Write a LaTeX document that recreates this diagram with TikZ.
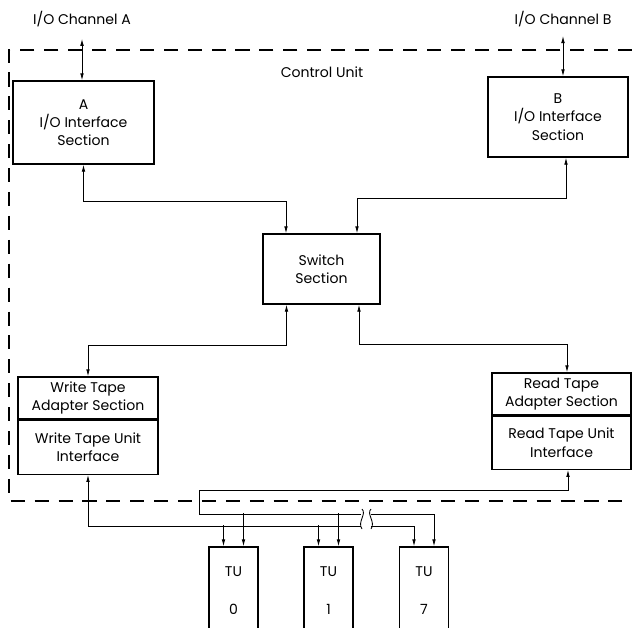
\documentclass[tikz,border=0pt]{standalone}
\usepackage{fontspec}
\setmainfont{Poppins}
\usetikzlibrary{arrows.meta,calc,positioning}

\begin{document}
\begin{tikzpicture}[x=0.025cm,y=-0.025cm,
  every node/.style={font=\fontsize{10}{13}\selectfont},
  unitbox/.style={draw,line width=0.9pt,align=center,inner sep=0pt},
  tubox/.style={draw,line width=0.9pt,align=center,inner sep=0pt,minimum width=1.225cm,minimum height=2.2cm},
  link/.style={line width=0.6pt},
  twoway/.style={link,{Latex[length=5pt,width=2.6pt]}-{Latex[length=5pt,width=2.6pt]}},
  oneway/.style={link,-{Latex[length=5pt,width=2.6pt]}},
  backway/.style={link,{Latex[length=5pt,width=2.6pt]}-},
  border/.style={line width=0.8pt,dash pattern=on 10pt off 7pt}]
\clip (0,0) rectangle (632,627);

\node (chA) at (82,19) {I/O Channel A};
\node (chB) at (563,19) {I/O Channel B};
\node (cu) at (322,72) {Control Unit};

\node[unitbox,minimum width=3.525cm,minimum height=2.075cm] (secA) at (83.5,122.5) {A\\I/O Interface\\Section};
\node[unitbox,minimum width=3.5cm,minimum height=2cm] (secB) at (558,117) {B\\I/O Interface\\Section};
\node[unitbox,minimum width=2.925cm,minimum height=1.75cm] (switch) at (321.5,269) {Switch\\Section};

\node[unitbox,minimum width=3.5cm,minimum height=1.05cm] (wta) at (88,398) {Write Tape\\Adapter Section};
\node[unitbox,minimum width=3.5cm,minimum height=1.35cm,below=0pt of wta] (wtu) {Write Tape Unit\\Interface};
\node[unitbox,minimum width=3.475cm,minimum height=1.05cm] (rta) at (561.5,394) {Read Tape\\Adapter Section};
\node[unitbox,minimum width=3.475cm,minimum height=1.325cm,below=0pt of rta] (rtu) {Read Tape Unit\\Interface};

\node[tubox] (tu0) at (233.5,591) {TU\\[14pt]0};
\node[tubox] (tu1) at (328.5,591) {TU\\[14pt]1};
\node[tubox] (tu7) at (424,591) {TU\\[14pt]7};

% control unit border
\draw[border] (632,50) -- (9,50) -- (9,501) -- (632,501);

% channels
\draw[twoway,shorten <=5pt] (chA.south) -- (chA.south |- secA.north);
\draw[twoway,shorten <=3pt] (chB.south) -- (chB.south |- secB.north);

% interfaces to switch
\coordinate (swA) at ($(switch.north)+(-35.5,0)$);
\coordinate (swB) at ($(switch.north)+(35.5,0)$);
\coordinate (portB) at ($(secB.south)+(8,0)$);
\draw[twoway] (secA.south) -- ++(0,37) -| (swA);
\draw[twoway] (portB) -- ++(0,41) -| (swB);

% switch to adapters
\coordinate (swW) at ($(switch.south)+(-35,0)$);
\coordinate (swR) at ($(switch.south)+(37.5,0)$);
\coordinate (portR) at ($(rta.north)+(5.5,0)$);
\draw[twoway] (swW) -- ++(0,41) -| (wta.north);
\draw[twoway] (swR) -- ++(0,40) -| (portR);

% tape buses
\coordinate (rdout) at ($(rtu.south)+(6.5,0)$);
\coordinate (brkL) at (361,0);
\coordinate (brkR) at (371,0);
\draw[backway] (rdout) |- (199,490) |- (brkL |- 0,514);
\draw[backway] (wtu.south) |- (brkL |- 0,526);
\draw[oneway] (brkR |- 0,514) -| ($(tu7.north)+(10,0)$);
\draw[oneway] (brkR |- 0,526) -| ($(tu7.north)+(-10,0)$);
\foreach \t in {tu0,tu1} {
  \draw[oneway] ($(\t.north)+(-10,-21)$) -- ($(\t.north)+(-10,0)$);
  \draw[oneway] ($(\t.north)+(10,-33)$) -- ($(\t.north)+(10,0)$);
}

% break marks
\draw[link] (362,509) .. controls (367,514) and (357,522) .. (362,529);
\draw[link] (371,509) .. controls (366,514) and (376,522) .. (371,529);

\end{tikzpicture}
\end{document}
